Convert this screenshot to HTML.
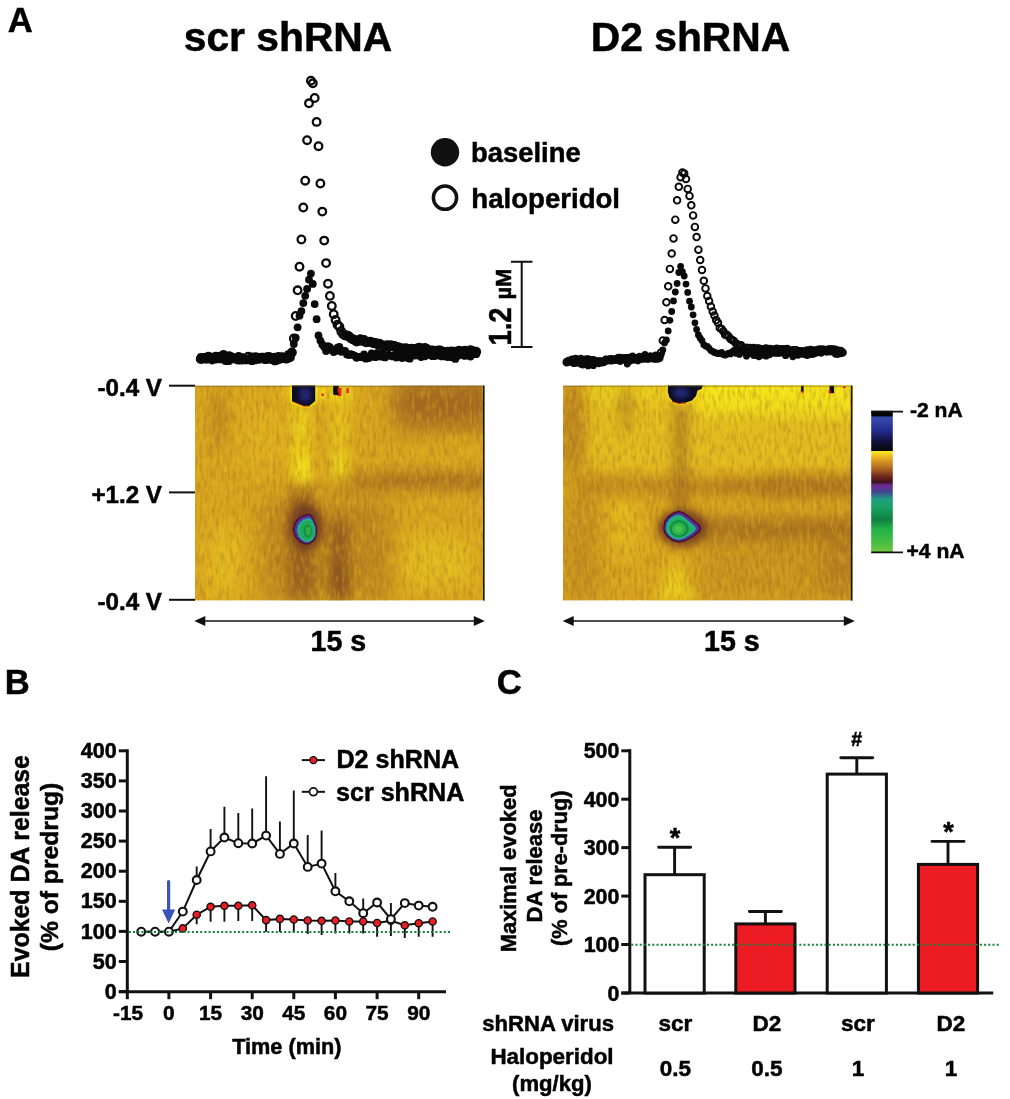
<!DOCTYPE html>
<html lang="en"><head><meta charset="utf-8"><title>Figure</title>
<style>
html,body{margin:0;padding:0;background:#fff;}
body{width:1010px;height:1099px;overflow:hidden;}
svg{display:block;}
text{font-family:"Liberation Sans", sans-serif;font-weight:bold;fill:#000;stroke:#000;stroke-width:0.5px;}
</style></head><body>
<svg width="1010" height="1099" viewBox="0 0 1010 1099">
<defs>
<filter id="nzd1" x="0" y="0" width="100%" height="100%" color-interpolation-filters="sRGB">
<feTurbulence type="fractalNoise" baseFrequency="0.3 0.085" numOctaves="2" seed="3"/>
<feColorMatrix type="matrix" values="0 0 0 0 0.60  0 0 0 0 0.38  0 0 0 0 0.12  1.8 0 0 0 -0.78"/>
</filter>
<filter id="nzl1" x="0" y="0" width="100%" height="100%" color-interpolation-filters="sRGB">
<feTurbulence type="fractalNoise" baseFrequency="0.33 0.09" numOctaves="2" seed="11"/>
<feColorMatrix type="matrix" values="0 0 0 0 0.95  0 0 0 0 0.84  0 0 0 0 0.14  1.8 0 0 0 -0.78"/>
</filter>
<filter id="nzd2" x="0" y="0" width="100%" height="100%" color-interpolation-filters="sRGB">
<feTurbulence type="fractalNoise" baseFrequency="0.32 0.09" numOctaves="2" seed="23"/>
<feColorMatrix type="matrix" values="0 0 0 0 0.60  0 0 0 0 0.38  0 0 0 0 0.12  1.8 0 0 0 -0.78"/>
</filter>
<filter id="nzl2" x="0" y="0" width="100%" height="100%" color-interpolation-filters="sRGB">
<feTurbulence type="fractalNoise" baseFrequency="0.29 0.085" numOctaves="2" seed="31"/>
<feColorMatrix type="matrix" values="0 0 0 0 0.95  0 0 0 0 0.84  0 0 0 0 0.14  1.8 0 0 0 -0.78"/>
</filter>
<filter id="b2" x="-60%" y="-60%" width="220%" height="220%"><feGaussianBlur stdDeviation="2"/></filter>
<filter id="b4" x="-60%" y="-60%" width="220%" height="220%"><feGaussianBlur stdDeviation="4"/></filter>
<filter id="b6" x="-60%" y="-60%" width="220%" height="220%"><feGaussianBlur stdDeviation="6 8"/></filter>
<filter id="b10" x="-60%" y="-60%" width="220%" height="220%"><feGaussianBlur stdDeviation="10"/></filter>
<filter id="b05" x="-20%" y="-20%" width="140%" height="140%"><feGaussianBlur stdDeviation="0.75"/></filter>
<filter id="b1" x="-60%" y="-60%" width="220%" height="220%"><feGaussianBlur stdDeviation="0.8"/></filter>
<linearGradient id="cb" x1="0" y1="0" x2="0" y2="1">
<stop offset="0" stop-color="#050505"/>
<stop offset="0.035" stop-color="#050505"/>
<stop offset="0.045" stop-color="#3a4aaa"/>
<stop offset="0.07" stop-color="#3344a8"/>
<stop offset="0.14" stop-color="#232b8c"/>
<stop offset="0.22" stop-color="#10103a"/>
<stop offset="0.275" stop-color="#08080c"/>
<stop offset="0.282" stop-color="#08080c"/>
<stop offset="0.286" stop-color="#f7e81e"/>
<stop offset="0.30" stop-color="#f5d820"/>
<stop offset="0.345" stop-color="#dfa021"/>
<stop offset="0.405" stop-color="#b06820"/>
<stop offset="0.465" stop-color="#70281a"/>
<stop offset="0.505" stop-color="#3c1020"/>
<stop offset="0.525" stop-color="#702890"/>
<stop offset="0.575" stop-color="#404890"/>
<stop offset="0.625" stop-color="#20a080"/>
<stop offset="0.685" stop-color="#18a060"/>
<stop offset="0.77" stop-color="#108040"/>
<stop offset="0.83" stop-color="#20b048"/>
<stop offset="0.95" stop-color="#50c040"/>
<stop offset="1" stop-color="#78c840"/>
</linearGradient>
<linearGradient id="ytop" x1="0" y1="0" x2="0" y2="1"><stop offset="0" stop-color="#f6e81c" stop-opacity="0.95"/><stop offset="0.45" stop-color="#f3e01c" stop-opacity="0.75"/><stop offset="1" stop-color="#f0d81e" stop-opacity="0"/></linearGradient>
<linearGradient id="yfade" x1="0" y1="0" x2="1" y2="0"><stop offset="0" stop-color="#fff" stop-opacity="0"/><stop offset="0.12" stop-color="#fff" stop-opacity="1"/><stop offset="1" stop-color="#fff" stop-opacity="1"/></linearGradient>
<mask id="ym" maskUnits="userSpaceOnUse" x="560" y="380" width="300" height="60"><rect x="690" y="380" width="170" height="60" fill="url(#yfade)"/></mask>
<clipPath id="cl1"><rect x="195" y="385.6" width="289" height="215"/></clipPath>
<clipPath id="cl2"><rect x="563" y="385.6" width="289.5" height="215"/></clipPath>
</defs>
<rect width="1010" height="1099" fill="#fff"/>

<text x="7.8" y="31.7" font-size="34.6">A</text>
<text x="4.7" y="693.8" font-size="34.6">B</text>
<text x="496.7" y="694" font-size="34.6">C</text>
<text x="288" y="51.2" font-size="40.8" text-anchor="middle">scr shRNA</text>
<text x="690.5" y="51.2" font-size="40.8" text-anchor="middle">D2 shRNA</text>
<circle cx="445" cy="152.2" r="14.2" fill="#111"/>
<circle cx="445" cy="197.7" r="11.6" fill="#fff" stroke="#111" stroke-width="3.5"/>
<text x="471" y="161.6" font-size="27.4">baseline</text>
<text x="471.3" y="207.5" font-size="27.6">haloperidol</text>
<path d="M511 261.8H532.5M511 347H532.5M521.7 261.8V347" stroke="#111" stroke-width="2" fill="none"/>
<text transform="translate(511.4,345.6) rotate(-90) scale(0.9,1)" font-size="30.5">1.2</text>
<text transform="translate(511.3,299.6) rotate(-90)" font-size="22">µM</text>
<g fill="#0a0a0a"><circle cx="200.7" cy="357.0" r="3.9"/><circle cx="202.6" cy="358.0" r="3.9"/><circle cx="204.5" cy="356.8" r="3.9"/><circle cx="206.4" cy="356.6" r="3.9"/><circle cx="208.3" cy="355.7" r="3.9"/><circle cx="210.2" cy="356.9" r="3.9"/><circle cx="212.1" cy="359.0" r="3.9"/><circle cx="214.0" cy="358.3" r="3.9"/><circle cx="215.9" cy="359.5" r="3.9"/><circle cx="217.8" cy="358.7" r="3.9"/><circle cx="219.7" cy="359.3" r="3.9"/><circle cx="221.6" cy="359.4" r="3.9"/><circle cx="223.5" cy="357.0" r="3.9"/><circle cx="225.4" cy="361.1" r="3.9"/><circle cx="227.3" cy="360.9" r="3.9"/><circle cx="229.2" cy="361.1" r="3.9"/><circle cx="231.1" cy="357.9" r="3.9"/><circle cx="233.0" cy="357.9" r="3.9"/><circle cx="234.9" cy="359.2" r="3.9"/><circle cx="236.8" cy="359.7" r="3.9"/><circle cx="238.7" cy="360.7" r="3.9"/><circle cx="240.6" cy="359.9" r="3.9"/><circle cx="242.5" cy="360.5" r="3.9"/><circle cx="244.4" cy="358.5" r="3.9"/><circle cx="246.3" cy="359.6" r="3.9"/><circle cx="248.2" cy="359.5" r="3.9"/><circle cx="250.1" cy="357.7" r="3.9"/><circle cx="252.0" cy="361.2" r="3.9"/><circle cx="253.9" cy="359.3" r="3.9"/><circle cx="255.8" cy="360.3" r="3.9"/><circle cx="257.7" cy="357.7" r="3.9"/><circle cx="259.6" cy="357.6" r="3.9"/><circle cx="261.5" cy="358.4" r="3.9"/><circle cx="263.4" cy="358.9" r="3.9"/><circle cx="265.3" cy="360.2" r="3.9"/><circle cx="267.2" cy="359.8" r="3.9"/><circle cx="269.1" cy="358.9" r="3.9"/><circle cx="271.0" cy="358.2" r="3.9"/><circle cx="272.9" cy="358.8" r="3.9"/><circle cx="274.8" cy="361.4" r="3.9"/><circle cx="276.7" cy="358.2" r="3.9"/><circle cx="278.6" cy="359.5" r="3.9"/><circle cx="280.5" cy="359.4" r="3.9"/><circle cx="282.4" cy="356.2" r="3.9"/><circle cx="284.3" cy="358.1" r="3.9"/><circle cx="286.2" cy="359.6" r="3.9"/><circle cx="288.1" cy="354.2" r="3.9"/><circle cx="290.0" cy="355.4" r="3.9"/><circle cx="291.9" cy="352.0" r="3.9"/><circle cx="293.8" cy="344.0" r="3.9"/><circle cx="295.7" cy="337.7" r="3.9"/><circle cx="297.6" cy="327.3" r="3.9"/><circle cx="299.5" cy="315.7" r="3.9"/><circle cx="301.4" cy="311.1" r="3.9"/><circle cx="303.3" cy="303.1" r="3.9"/><circle cx="305.2" cy="295.8" r="3.9"/><circle cx="307.1" cy="288.9" r="3.9"/><circle cx="309.0" cy="279.7" r="3.9"/><circle cx="310.9" cy="273.6" r="3.9"/><circle cx="312.8" cy="283.9" r="3.9"/><circle cx="314.7" cy="304.1" r="3.9"/><circle cx="316.6" cy="319.2" r="3.9"/><circle cx="318.5" cy="335.5" r="3.9"/><circle cx="320.4" cy="340.6" r="3.9"/><circle cx="322.3" cy="344.5" r="3.9"/><circle cx="324.2" cy="347.0" r="3.9"/><circle cx="326.1" cy="351.0" r="3.9"/><circle cx="328.0" cy="346.2" r="3.9"/><circle cx="329.9" cy="347.2" r="3.9"/><circle cx="331.8" cy="349.9" r="3.9"/><circle cx="333.7" cy="352.0" r="3.9"/><circle cx="335.6" cy="350.9" r="3.9"/><circle cx="337.5" cy="347.6" r="3.9"/><circle cx="339.4" cy="347.0" r="3.9"/><circle cx="341.3" cy="351.8" r="3.9"/><circle cx="343.2" cy="350.8" r="3.9"/><circle cx="345.1" cy="350.8" r="3.9"/><circle cx="347.0" cy="354.4" r="3.9"/><circle cx="348.9" cy="355.0" r="3.9"/><circle cx="350.8" cy="354.2" r="3.9"/><circle cx="352.7" cy="354.8" r="3.9"/><circle cx="354.6" cy="355.6" r="3.9"/><circle cx="356.5" cy="357.8" r="3.9"/><circle cx="358.4" cy="356.8" r="3.9"/><circle cx="360.3" cy="357.0" r="3.9"/><circle cx="362.2" cy="357.3" r="3.9"/><circle cx="364.1" cy="354.3" r="3.9"/><circle cx="366.0" cy="358.7" r="3.9"/><circle cx="367.9" cy="358.2" r="3.9"/><circle cx="369.8" cy="357.5" r="3.9"/><circle cx="371.7" cy="353.5" r="3.9"/><circle cx="373.6" cy="355.2" r="3.9"/><circle cx="375.5" cy="357.2" r="3.9"/><circle cx="377.4" cy="352.9" r="3.9"/><circle cx="379.3" cy="355.1" r="3.9"/><circle cx="381.2" cy="356.7" r="3.9"/><circle cx="383.1" cy="353.1" r="3.9"/><circle cx="385.0" cy="357.4" r="3.9"/><circle cx="386.9" cy="355.8" r="3.9"/><circle cx="388.8" cy="354.8" r="3.9"/><circle cx="390.7" cy="355.7" r="3.9"/><circle cx="392.6" cy="356.4" r="3.9"/><circle cx="394.5" cy="355.8" r="3.9"/><circle cx="396.4" cy="357.6" r="3.9"/><circle cx="398.3" cy="355.1" r="3.9"/><circle cx="400.2" cy="355.7" r="3.9"/><circle cx="402.1" cy="358.1" r="3.9"/><circle cx="404.0" cy="356.7" r="3.9"/><circle cx="405.9" cy="355.3" r="3.9"/><circle cx="407.8" cy="358.0" r="3.9"/><circle cx="409.7" cy="358.7" r="3.9"/><circle cx="411.6" cy="355.6" r="3.9"/><circle cx="413.5" cy="354.0" r="3.9"/><circle cx="415.4" cy="355.5" r="3.9"/><circle cx="417.3" cy="355.2" r="3.9"/><circle cx="419.2" cy="354.7" r="3.9"/><circle cx="421.1" cy="357.0" r="3.9"/><circle cx="423.0" cy="353.1" r="3.9"/><circle cx="424.9" cy="356.3" r="3.9"/><circle cx="426.8" cy="352.4" r="3.9"/><circle cx="428.7" cy="353.1" r="3.9"/><circle cx="430.6" cy="355.3" r="3.9"/><circle cx="432.5" cy="356.2" r="3.9"/><circle cx="434.4" cy="356.0" r="3.9"/><circle cx="436.3" cy="355.4" r="3.9"/><circle cx="438.2" cy="355.3" r="3.9"/><circle cx="440.1" cy="355.5" r="3.9"/><circle cx="442.0" cy="356.4" r="3.9"/><circle cx="443.9" cy="355.5" r="3.9"/><circle cx="445.8" cy="356.4" r="3.9"/><circle cx="447.7" cy="357.0" r="3.9"/><circle cx="449.6" cy="356.2" r="3.9"/><circle cx="451.5" cy="357.3" r="3.9"/><circle cx="453.4" cy="356.9" r="3.9"/><circle cx="455.3" cy="358.9" r="3.9"/><circle cx="457.2" cy="356.2" r="3.9"/><circle cx="459.1" cy="354.8" r="3.9"/><circle cx="461.0" cy="354.6" r="3.9"/><circle cx="462.9" cy="354.8" r="3.9"/><circle cx="464.8" cy="355.9" r="3.9"/><circle cx="466.7" cy="353.7" r="3.9"/><circle cx="468.6" cy="354.6" r="3.9"/><circle cx="470.5" cy="356.6" r="3.9"/><circle cx="472.4" cy="349.9" r="3.9"/><circle cx="474.3" cy="352.0" r="3.9"/><circle cx="476.2" cy="354.2" r="3.9"/></g>
<g fill="none" stroke="#0a0a0a" stroke-width="2.3"><circle cx="200.7" cy="359.0" r="3.8"/><circle cx="202.6" cy="358.8" r="3.8"/><circle cx="204.5" cy="358.1" r="3.8"/><circle cx="206.4" cy="358.7" r="3.8"/><circle cx="208.3" cy="358.3" r="3.8"/><circle cx="210.2" cy="357.5" r="3.8"/><circle cx="212.1" cy="359.5" r="3.8"/><circle cx="214.0" cy="357.7" r="3.8"/><circle cx="215.9" cy="356.8" r="3.8"/><circle cx="217.8" cy="357.0" r="3.8"/><circle cx="219.7" cy="356.8" r="3.8"/><circle cx="221.6" cy="356.9" r="3.8"/><circle cx="223.5" cy="354.9" r="3.8"/><circle cx="225.4" cy="356.6" r="3.8"/><circle cx="227.3" cy="357.8" r="3.8"/><circle cx="229.2" cy="356.3" r="3.8"/><circle cx="231.1" cy="357.3" r="3.8"/><circle cx="233.0" cy="358.3" r="3.8"/><circle cx="234.9" cy="358.4" r="3.8"/><circle cx="236.8" cy="359.1" r="3.8"/><circle cx="238.7" cy="356.9" r="3.8"/><circle cx="240.6" cy="358.1" r="3.8"/><circle cx="242.5" cy="358.3" r="3.8"/><circle cx="244.4" cy="359.1" r="3.8"/><circle cx="246.3" cy="359.5" r="3.8"/><circle cx="248.2" cy="356.7" r="3.8"/><circle cx="250.1" cy="359.5" r="3.8"/><circle cx="252.0" cy="357.5" r="3.8"/><circle cx="253.9" cy="359.0" r="3.8"/><circle cx="255.8" cy="357.2" r="3.8"/><circle cx="257.7" cy="358.3" r="3.8"/><circle cx="259.6" cy="358.8" r="3.8"/><circle cx="261.5" cy="357.6" r="3.8"/><circle cx="263.4" cy="357.7" r="3.8"/><circle cx="265.3" cy="357.9" r="3.8"/><circle cx="267.2" cy="357.3" r="3.8"/><circle cx="269.1" cy="357.0" r="3.8"/><circle cx="271.0" cy="359.0" r="3.8"/><circle cx="272.9" cy="358.6" r="3.8"/><circle cx="274.8" cy="357.6" r="3.8"/><circle cx="276.7" cy="359.9" r="3.8"/><circle cx="278.6" cy="357.0" r="3.8"/><circle cx="280.5" cy="358.5" r="3.8"/><circle cx="282.4" cy="357.6" r="3.8"/><circle cx="284.3" cy="357.9" r="3.8"/><circle cx="286.2" cy="358.4" r="3.8"/><circle cx="288.1" cy="358.0" r="3.8"/><circle cx="290.0" cy="357.2" r="3.8"/><circle cx="291.9" cy="352.4" r="3.8"/><circle cx="293.8" cy="338.4" r="3.8"/><circle cx="295.7" cy="316.0" r="3.8"/><circle cx="297.6" cy="290.3" r="3.8"/><circle cx="299.5" cy="266.7" r="3.8"/><circle cx="301.4" cy="239.5" r="3.8"/><circle cx="303.3" cy="207.5" r="3.8"/><circle cx="305.2" cy="180.7" r="3.8"/><circle cx="307.1" cy="140.2" r="3.8"/><circle cx="309.0" cy="103.3" r="3.8"/><circle cx="310.9" cy="80.7" r="3.8"/><circle cx="312.8" cy="83.3" r="3.8"/><circle cx="314.7" cy="98.0" r="3.8"/><circle cx="316.6" cy="121.9" r="3.8"/><circle cx="318.5" cy="146.2" r="3.8"/><circle cx="320.4" cy="183.5" r="3.8"/><circle cx="322.3" cy="211.6" r="3.8"/><circle cx="324.2" cy="240.6" r="3.8"/><circle cx="326.1" cy="263.1" r="3.8"/><circle cx="328.0" cy="283.7" r="3.8"/><circle cx="329.9" cy="295.9" r="3.8"/><circle cx="331.8" cy="306.0" r="3.8"/><circle cx="333.7" cy="314.2" r="3.8"/><circle cx="335.6" cy="319.9" r="3.8"/><circle cx="337.5" cy="324.8" r="3.8"/><circle cx="339.4" cy="326.7" r="3.8"/><circle cx="341.3" cy="331.5" r="3.8"/><circle cx="343.2" cy="334.3" r="3.8"/><circle cx="345.1" cy="335.5" r="3.8"/><circle cx="347.0" cy="335.5" r="3.8"/><circle cx="348.9" cy="336.2" r="3.8"/><circle cx="350.8" cy="338.3" r="3.8"/><circle cx="352.7" cy="339.2" r="3.8"/><circle cx="354.6" cy="339.9" r="3.8"/><circle cx="356.5" cy="341.6" r="3.8"/><circle cx="358.4" cy="340.7" r="3.8"/><circle cx="360.3" cy="339.3" r="3.8"/><circle cx="362.2" cy="340.9" r="3.8"/><circle cx="364.1" cy="340.0" r="3.8"/><circle cx="366.0" cy="342.2" r="3.8"/><circle cx="367.9" cy="342.1" r="3.8"/><circle cx="369.8" cy="341.6" r="3.8"/><circle cx="371.7" cy="342.3" r="3.8"/><circle cx="373.6" cy="343.2" r="3.8"/><circle cx="375.5" cy="342.9" r="3.8"/><circle cx="377.4" cy="344.2" r="3.8"/><circle cx="379.3" cy="343.6" r="3.8"/><circle cx="381.2" cy="344.9" r="3.8"/><circle cx="383.1" cy="345.7" r="3.8"/><circle cx="385.0" cy="346.3" r="3.8"/><circle cx="386.9" cy="345.1" r="3.8"/><circle cx="388.8" cy="346.7" r="3.8"/><circle cx="390.7" cy="345.1" r="3.8"/><circle cx="392.6" cy="346.2" r="3.8"/><circle cx="394.5" cy="345.9" r="3.8"/><circle cx="396.4" cy="348.6" r="3.8"/><circle cx="398.3" cy="347.2" r="3.8"/><circle cx="400.2" cy="348.3" r="3.8"/><circle cx="402.1" cy="348.4" r="3.8"/><circle cx="404.0" cy="348.6" r="3.8"/><circle cx="405.9" cy="348.2" r="3.8"/><circle cx="407.8" cy="348.9" r="3.8"/><circle cx="409.7" cy="350.0" r="3.8"/><circle cx="411.6" cy="348.7" r="3.8"/><circle cx="413.5" cy="349.0" r="3.8"/><circle cx="415.4" cy="349.4" r="3.8"/><circle cx="417.3" cy="348.5" r="3.8"/><circle cx="419.2" cy="347.7" r="3.8"/><circle cx="421.1" cy="348.4" r="3.8"/><circle cx="423.0" cy="349.7" r="3.8"/><circle cx="424.9" cy="347.9" r="3.8"/><circle cx="426.8" cy="348.9" r="3.8"/><circle cx="428.7" cy="350.4" r="3.8"/><circle cx="430.6" cy="350.6" r="3.8"/><circle cx="432.5" cy="350.4" r="3.8"/><circle cx="434.4" cy="351.3" r="3.8"/><circle cx="436.3" cy="351.1" r="3.8"/><circle cx="438.2" cy="350.4" r="3.8"/><circle cx="440.1" cy="350.4" r="3.8"/><circle cx="442.0" cy="351.4" r="3.8"/><circle cx="443.9" cy="352.8" r="3.8"/><circle cx="445.8" cy="351.9" r="3.8"/><circle cx="447.7" cy="351.8" r="3.8"/><circle cx="449.6" cy="352.0" r="3.8"/><circle cx="451.5" cy="351.5" r="3.8"/><circle cx="453.4" cy="352.5" r="3.8"/><circle cx="455.3" cy="351.7" r="3.8"/><circle cx="457.2" cy="352.8" r="3.8"/><circle cx="459.1" cy="350.7" r="3.8"/><circle cx="461.0" cy="352.6" r="3.8"/><circle cx="462.9" cy="351.7" r="3.8"/><circle cx="464.8" cy="350.6" r="3.8"/><circle cx="466.7" cy="352.5" r="3.8"/><circle cx="468.6" cy="351.7" r="3.8"/><circle cx="470.5" cy="350.2" r="3.8"/><circle cx="472.4" cy="351.3" r="3.8"/><circle cx="474.3" cy="352.2" r="3.8"/><circle cx="476.2" cy="351.8" r="3.8"/></g>
<g fill="#0a0a0a"><circle cx="566.7" cy="361.4" r="3.4"/><circle cx="568.5" cy="361.7" r="3.4"/><circle cx="570.3" cy="362.0" r="3.4"/><circle cx="572.0" cy="361.9" r="3.4"/><circle cx="573.8" cy="363.7" r="3.4"/><circle cx="575.6" cy="363.1" r="3.4"/><circle cx="577.4" cy="363.2" r="3.4"/><circle cx="579.2" cy="359.9" r="3.4"/><circle cx="580.9" cy="364.3" r="3.4"/><circle cx="582.7" cy="365.0" r="3.4"/><circle cx="584.5" cy="362.9" r="3.4"/><circle cx="586.3" cy="362.6" r="3.4"/><circle cx="588.1" cy="365.9" r="3.4"/><circle cx="589.8" cy="360.6" r="3.4"/><circle cx="591.6" cy="363.4" r="3.4"/><circle cx="593.4" cy="365.7" r="3.4"/><circle cx="595.2" cy="360.6" r="3.4"/><circle cx="597.0" cy="362.5" r="3.4"/><circle cx="598.7" cy="363.8" r="3.4"/><circle cx="600.5" cy="360.6" r="3.4"/><circle cx="602.3" cy="361.3" r="3.4"/><circle cx="604.1" cy="361.6" r="3.4"/><circle cx="605.9" cy="358.9" r="3.4"/><circle cx="607.6" cy="359.9" r="3.4"/><circle cx="609.4" cy="360.4" r="3.4"/><circle cx="611.2" cy="361.2" r="3.4"/><circle cx="613.0" cy="360.0" r="3.4"/><circle cx="614.8" cy="359.9" r="3.4"/><circle cx="616.5" cy="358.8" r="3.4"/><circle cx="618.3" cy="359.8" r="3.4"/><circle cx="620.1" cy="361.6" r="3.4"/><circle cx="621.9" cy="360.6" r="3.4"/><circle cx="623.7" cy="359.3" r="3.4"/><circle cx="625.4" cy="359.3" r="3.4"/><circle cx="627.2" cy="364.1" r="3.4"/><circle cx="629.0" cy="361.8" r="3.4"/><circle cx="630.8" cy="360.8" r="3.4"/><circle cx="632.6" cy="356.0" r="3.4"/><circle cx="634.3" cy="360.2" r="3.4"/><circle cx="636.1" cy="359.6" r="3.4"/><circle cx="637.9" cy="360.9" r="3.4"/><circle cx="639.7" cy="358.7" r="3.4"/><circle cx="641.5" cy="357.6" r="3.4"/><circle cx="643.2" cy="358.1" r="3.4"/><circle cx="645.0" cy="354.4" r="3.4"/><circle cx="646.8" cy="358.3" r="3.4"/><circle cx="648.6" cy="357.1" r="3.4"/><circle cx="650.4" cy="355.6" r="3.4"/><circle cx="652.1" cy="358.4" r="3.4"/><circle cx="653.9" cy="359.2" r="3.4"/><circle cx="655.7" cy="354.8" r="3.4"/><circle cx="657.5" cy="356.0" r="3.4"/><circle cx="659.3" cy="357.5" r="3.4"/><circle cx="661.0" cy="355.1" r="3.4"/><circle cx="662.8" cy="349.8" r="3.4"/><circle cx="664.6" cy="342.9" r="3.4"/><circle cx="666.4" cy="339.9" r="3.4"/><circle cx="668.2" cy="330.9" r="3.4"/><circle cx="669.9" cy="320.3" r="3.4"/><circle cx="671.7" cy="311.5" r="3.4"/><circle cx="673.5" cy="300.9" r="3.4"/><circle cx="675.3" cy="292.0" r="3.4"/><circle cx="677.1" cy="283.5" r="3.4"/><circle cx="678.8" cy="272.5" r="3.4"/><circle cx="680.6" cy="266.3" r="3.4"/><circle cx="682.4" cy="271.6" r="3.4"/><circle cx="684.2" cy="276.0" r="3.4"/><circle cx="686.0" cy="284.1" r="3.4"/><circle cx="687.7" cy="292.4" r="3.4"/><circle cx="689.5" cy="301.2" r="3.4"/><circle cx="691.3" cy="307.0" r="3.4"/><circle cx="693.1" cy="314.8" r="3.4"/><circle cx="694.9" cy="322.8" r="3.4"/><circle cx="696.6" cy="329.5" r="3.4"/><circle cx="698.4" cy="335.0" r="3.4"/><circle cx="700.2" cy="338.2" r="3.4"/><circle cx="702.0" cy="340.6" r="3.4"/><circle cx="703.8" cy="344.7" r="3.4"/><circle cx="705.5" cy="346.1" r="3.4"/><circle cx="707.3" cy="346.5" r="3.4"/><circle cx="709.1" cy="348.3" r="3.4"/><circle cx="710.9" cy="350.6" r="3.4"/><circle cx="712.7" cy="351.5" r="3.4"/><circle cx="714.4" cy="352.5" r="3.4"/><circle cx="716.2" cy="352.9" r="3.4"/><circle cx="718.0" cy="353.7" r="3.4"/><circle cx="719.8" cy="353.7" r="3.4"/><circle cx="721.6" cy="352.3" r="3.4"/><circle cx="723.3" cy="354.5" r="3.4"/><circle cx="725.1" cy="355.2" r="3.4"/><circle cx="726.9" cy="354.2" r="3.4"/><circle cx="728.7" cy="353.2" r="3.4"/><circle cx="730.5" cy="353.9" r="3.4"/><circle cx="732.2" cy="351.9" r="3.4"/><circle cx="734.0" cy="350.5" r="3.4"/><circle cx="735.8" cy="353.3" r="3.4"/><circle cx="737.6" cy="352.0" r="3.4"/><circle cx="739.4" cy="354.4" r="3.4"/><circle cx="741.1" cy="351.9" r="3.4"/><circle cx="742.9" cy="349.9" r="3.4"/><circle cx="744.7" cy="352.3" r="3.4"/><circle cx="746.5" cy="356.2" r="3.4"/><circle cx="748.3" cy="353.6" r="3.4"/><circle cx="750.0" cy="352.5" r="3.4"/><circle cx="751.8" cy="353.5" r="3.4"/><circle cx="753.6" cy="355.4" r="3.4"/><circle cx="755.4" cy="355.5" r="3.4"/><circle cx="757.2" cy="355.1" r="3.4"/><circle cx="758.9" cy="356.8" r="3.4"/><circle cx="760.7" cy="355.6" r="3.4"/><circle cx="762.5" cy="354.4" r="3.4"/><circle cx="764.3" cy="355.0" r="3.4"/><circle cx="766.1" cy="356.2" r="3.4"/><circle cx="767.8" cy="355.0" r="3.4"/><circle cx="769.6" cy="354.7" r="3.4"/><circle cx="771.4" cy="351.4" r="3.4"/><circle cx="773.2" cy="352.4" r="3.4"/><circle cx="775.0" cy="353.4" r="3.4"/><circle cx="776.7" cy="351.7" r="3.4"/><circle cx="778.5" cy="353.5" r="3.4"/><circle cx="780.3" cy="352.7" r="3.4"/><circle cx="782.1" cy="353.2" r="3.4"/><circle cx="783.9" cy="351.7" r="3.4"/><circle cx="785.6" cy="355.7" r="3.4"/><circle cx="787.4" cy="354.0" r="3.4"/><circle cx="789.2" cy="352.3" r="3.4"/><circle cx="791.0" cy="353.0" r="3.4"/><circle cx="792.8" cy="356.8" r="3.4"/><circle cx="794.5" cy="353.0" r="3.4"/><circle cx="796.3" cy="354.9" r="3.4"/><circle cx="798.1" cy="355.3" r="3.4"/><circle cx="799.9" cy="354.1" r="3.4"/><circle cx="801.7" cy="352.5" r="3.4"/><circle cx="803.4" cy="354.4" r="3.4"/><circle cx="805.2" cy="354.6" r="3.4"/><circle cx="807.0" cy="355.6" r="3.4"/><circle cx="808.8" cy="354.9" r="3.4"/><circle cx="810.6" cy="353.7" r="3.4"/><circle cx="812.3" cy="354.6" r="3.4"/><circle cx="814.1" cy="353.9" r="3.4"/><circle cx="815.9" cy="353.2" r="3.4"/><circle cx="817.7" cy="352.7" r="3.4"/><circle cx="819.5" cy="352.1" r="3.4"/><circle cx="821.2" cy="353.3" r="3.4"/><circle cx="823.0" cy="350.8" r="3.4"/><circle cx="824.8" cy="351.4" r="3.4"/><circle cx="826.6" cy="352.3" r="3.4"/><circle cx="828.4" cy="350.4" r="3.4"/><circle cx="830.1" cy="352.0" r="3.4"/><circle cx="831.9" cy="350.1" r="3.4"/><circle cx="833.7" cy="352.2" r="3.4"/><circle cx="835.5" cy="354.2" r="3.4"/><circle cx="837.3" cy="354.5" r="3.4"/><circle cx="839.0" cy="353.8" r="3.4"/><circle cx="840.8" cy="353.8" r="3.4"/><circle cx="842.6" cy="352.3" r="3.4"/></g>
<g fill="none" stroke="#0a0a0a" stroke-width="1.9"><circle cx="566.7" cy="362.2" r="3.3"/><circle cx="568.5" cy="361.1" r="3.3"/><circle cx="570.3" cy="361.3" r="3.3"/><circle cx="572.0" cy="359.8" r="3.3"/><circle cx="573.8" cy="360.2" r="3.3"/><circle cx="575.6" cy="359.0" r="3.3"/><circle cx="577.4" cy="360.8" r="3.3"/><circle cx="579.2" cy="360.9" r="3.3"/><circle cx="580.9" cy="359.0" r="3.3"/><circle cx="582.7" cy="360.4" r="3.3"/><circle cx="584.5" cy="361.0" r="3.3"/><circle cx="586.3" cy="359.5" r="3.3"/><circle cx="588.1" cy="359.5" r="3.3"/><circle cx="589.8" cy="360.2" r="3.3"/><circle cx="591.6" cy="360.6" r="3.3"/><circle cx="593.4" cy="360.2" r="3.3"/><circle cx="595.2" cy="361.3" r="3.3"/><circle cx="597.0" cy="361.5" r="3.3"/><circle cx="598.7" cy="361.7" r="3.3"/><circle cx="600.5" cy="361.7" r="3.3"/><circle cx="602.3" cy="362.2" r="3.3"/><circle cx="604.1" cy="361.8" r="3.3"/><circle cx="605.9" cy="359.9" r="3.3"/><circle cx="607.6" cy="360.2" r="3.3"/><circle cx="609.4" cy="359.6" r="3.3"/><circle cx="611.2" cy="359.3" r="3.3"/><circle cx="613.0" cy="359.8" r="3.3"/><circle cx="614.8" cy="359.6" r="3.3"/><circle cx="616.5" cy="359.7" r="3.3"/><circle cx="618.3" cy="358.0" r="3.3"/><circle cx="620.1" cy="358.0" r="3.3"/><circle cx="621.9" cy="358.7" r="3.3"/><circle cx="623.7" cy="358.5" r="3.3"/><circle cx="625.4" cy="358.3" r="3.3"/><circle cx="627.2" cy="358.4" r="3.3"/><circle cx="629.0" cy="357.9" r="3.3"/><circle cx="630.8" cy="359.0" r="3.3"/><circle cx="632.6" cy="358.8" r="3.3"/><circle cx="634.3" cy="358.6" r="3.3"/><circle cx="636.1" cy="358.3" r="3.3"/><circle cx="637.9" cy="358.8" r="3.3"/><circle cx="639.7" cy="357.1" r="3.3"/><circle cx="641.5" cy="358.4" r="3.3"/><circle cx="643.2" cy="358.6" r="3.3"/><circle cx="645.0" cy="357.5" r="3.3"/><circle cx="646.8" cy="358.6" r="3.3"/><circle cx="648.6" cy="358.5" r="3.3"/><circle cx="650.4" cy="357.3" r="3.3"/><circle cx="652.1" cy="358.1" r="3.3"/><circle cx="653.9" cy="357.9" r="3.3"/><circle cx="655.7" cy="358.4" r="3.3"/><circle cx="657.5" cy="358.4" r="3.3"/><circle cx="659.3" cy="357.9" r="3.3"/><circle cx="661.0" cy="352.5" r="3.3"/><circle cx="662.8" cy="340.5" r="3.3"/><circle cx="664.6" cy="320.0" r="3.3"/><circle cx="666.4" cy="302.3" r="3.3"/><circle cx="668.2" cy="286.3" r="3.3"/><circle cx="669.9" cy="268.9" r="3.3"/><circle cx="671.7" cy="253.5" r="3.3"/><circle cx="673.5" cy="238.4" r="3.3"/><circle cx="675.3" cy="219.7" r="3.3"/><circle cx="677.1" cy="200.3" r="3.3"/><circle cx="678.8" cy="186.8" r="3.3"/><circle cx="680.6" cy="177.2" r="3.3"/><circle cx="682.4" cy="172.4" r="3.3"/><circle cx="684.2" cy="173.6" r="3.3"/><circle cx="686.0" cy="179.0" r="3.3"/><circle cx="687.7" cy="188.9" r="3.3"/><circle cx="689.5" cy="195.9" r="3.3"/><circle cx="691.3" cy="205.3" r="3.3"/><circle cx="693.1" cy="215.4" r="3.3"/><circle cx="694.9" cy="226.9" r="3.3"/><circle cx="696.6" cy="237.1" r="3.3"/><circle cx="698.4" cy="249.7" r="3.3"/><circle cx="700.2" cy="260.0" r="3.3"/><circle cx="702.0" cy="270.0" r="3.3"/><circle cx="703.8" cy="280.8" r="3.3"/><circle cx="705.5" cy="288.4" r="3.3"/><circle cx="707.3" cy="296.0" r="3.3"/><circle cx="709.1" cy="301.0" r="3.3"/><circle cx="710.9" cy="306.6" r="3.3"/><circle cx="712.7" cy="311.5" r="3.3"/><circle cx="714.4" cy="315.5" r="3.3"/><circle cx="716.2" cy="320.1" r="3.3"/><circle cx="718.0" cy="322.8" r="3.3"/><circle cx="719.8" cy="328.0" r="3.3"/><circle cx="721.6" cy="329.1" r="3.3"/><circle cx="723.3" cy="331.3" r="3.3"/><circle cx="725.1" cy="334.7" r="3.3"/><circle cx="726.9" cy="334.7" r="3.3"/><circle cx="728.7" cy="336.5" r="3.3"/><circle cx="730.5" cy="339.0" r="3.3"/><circle cx="732.2" cy="339.9" r="3.3"/><circle cx="734.0" cy="341.0" r="3.3"/><circle cx="735.8" cy="343.2" r="3.3"/><circle cx="737.6" cy="344.4" r="3.3"/><circle cx="739.4" cy="345.4" r="3.3"/><circle cx="741.1" cy="345.2" r="3.3"/><circle cx="742.9" cy="347.9" r="3.3"/><circle cx="744.7" cy="348.5" r="3.3"/><circle cx="746.5" cy="347.7" r="3.3"/><circle cx="748.3" cy="348.2" r="3.3"/><circle cx="750.0" cy="347.9" r="3.3"/><circle cx="751.8" cy="349.5" r="3.3"/><circle cx="753.6" cy="348.1" r="3.3"/><circle cx="755.4" cy="349.2" r="3.3"/><circle cx="757.2" cy="348.5" r="3.3"/><circle cx="758.9" cy="348.4" r="3.3"/><circle cx="760.7" cy="349.5" r="3.3"/><circle cx="762.5" cy="349.9" r="3.3"/><circle cx="764.3" cy="349.0" r="3.3"/><circle cx="766.1" cy="348.6" r="3.3"/><circle cx="767.8" cy="349.6" r="3.3"/><circle cx="769.6" cy="349.0" r="3.3"/><circle cx="771.4" cy="349.2" r="3.3"/><circle cx="773.2" cy="350.0" r="3.3"/><circle cx="775.0" cy="349.8" r="3.3"/><circle cx="776.7" cy="348.7" r="3.3"/><circle cx="778.5" cy="350.8" r="3.3"/><circle cx="780.3" cy="349.3" r="3.3"/><circle cx="782.1" cy="350.1" r="3.3"/><circle cx="783.9" cy="349.3" r="3.3"/><circle cx="785.6" cy="350.0" r="3.3"/><circle cx="787.4" cy="349.0" r="3.3"/><circle cx="789.2" cy="351.8" r="3.3"/><circle cx="791.0" cy="351.8" r="3.3"/><circle cx="792.8" cy="350.2" r="3.3"/><circle cx="794.5" cy="350.2" r="3.3"/><circle cx="796.3" cy="350.3" r="3.3"/><circle cx="798.1" cy="352.4" r="3.3"/><circle cx="799.9" cy="351.3" r="3.3"/><circle cx="801.7" cy="351.6" r="3.3"/><circle cx="803.4" cy="351.4" r="3.3"/><circle cx="805.2" cy="351.4" r="3.3"/><circle cx="807.0" cy="350.6" r="3.3"/><circle cx="808.8" cy="351.2" r="3.3"/><circle cx="810.6" cy="350.0" r="3.3"/><circle cx="812.3" cy="350.7" r="3.3"/><circle cx="814.1" cy="350.8" r="3.3"/><circle cx="815.9" cy="350.7" r="3.3"/><circle cx="817.7" cy="350.0" r="3.3"/><circle cx="819.5" cy="349.4" r="3.3"/><circle cx="821.2" cy="350.0" r="3.3"/><circle cx="823.0" cy="349.4" r="3.3"/><circle cx="824.8" cy="350.8" r="3.3"/><circle cx="826.6" cy="350.2" r="3.3"/><circle cx="828.4" cy="349.6" r="3.3"/><circle cx="830.1" cy="349.5" r="3.3"/><circle cx="831.9" cy="349.4" r="3.3"/><circle cx="833.7" cy="349.4" r="3.3"/><circle cx="835.5" cy="349.9" r="3.3"/><circle cx="837.3" cy="350.6" r="3.3"/><circle cx="839.0" cy="350.9" r="3.3"/><circle cx="840.8" cy="351.1" r="3.3"/><circle cx="842.6" cy="352.4" r="3.3"/></g>
<g clip-path="url(#cl1)">
<rect x="195" y="385.6" width="289" height="215" fill="#d8a420"/>
<rect x="394" y="380" width="98" height="48" fill="#9a5f20" opacity="0.85" filter="url(#b10)"/>
<rect x="335" y="473" width="155" height="16" fill="#9a5f20" opacity="0.7" filter="url(#b6)"/>
<rect x="380" y="476" width="110" height="10" fill="#9a5f20" opacity="0.3" filter="url(#b4)"/>
<rect x="262" y="500" width="130" height="100" fill="#9a5f20" opacity="0.42" filter="url(#b10)"/>
<rect x="212" y="392" width="14" height="53" fill="#9a5f20" opacity="0.4" filter="url(#b6)"/>
<rect x="289" y="486" width="25" height="114" fill="#7e4620" opacity="0.6" filter="url(#b6)"/>
<rect x="330" y="520" width="18" height="80" fill="#7e4620" opacity="0.7" filter="url(#b6)"/>
<rect x="333" y="565" width="15" height="31" fill="#7e4620" opacity="0.4" filter="url(#b4)"/>
<rect x="292" y="404" width="19" height="78" fill="#f3e01c" opacity="0.7" filter="url(#b6)"/>
<rect x="294" y="456" width="16" height="24" fill="#f3e01c" opacity="0.8" filter="url(#b4)"/>
<rect x="331" y="398" width="18" height="82" fill="#f3e01c" opacity="0.5" filter="url(#b6)"/>
<rect x="333" y="456" width="15" height="22" fill="#f3e01c" opacity="0.6" filter="url(#b4)"/>
<rect x="286" y="386" width="66" height="14" fill="#f3e01c" opacity="0.9" filter="url(#b4)"/>
<rect x="208" y="526" width="34" height="70" fill="#ead022" opacity="0.5" filter="url(#b10)"/>
<rect x="400" y="535" width="74" height="53" fill="#ead022" opacity="0.5" filter="url(#b10)"/>
<rect x="240" y="400" width="50" height="70" fill="#ead022" opacity="0.25" filter="url(#b10)"/>
<rect x="195" y="385.6" width="289" height="215" filter="url(#nzd1)" opacity="0.5"/>
<rect x="195" y="385.6" width="289" height="215" filter="url(#nzl1)" opacity="0.4"/>
<ellipse cx="306" cy="527" rx="17" ry="23" fill="#6b3420" opacity="0.85" filter="url(#b4)"/>
<g filter="url(#b05)">
<path d="M293.5 530 L295 523.5 L298 519 L302 516.3 L306 515 L309.6 514.4 L312 517 L314.2 521 L316 526 L316.5 531 L315.6 537 L313 541 L309 543.6 L305 543.8 L300 541.5 L296 537.5Z" fill="#45102a" stroke="#45102a" stroke-width="1.4" stroke-linejoin="round"/>
<path d="M293.5 530 L295 523.5 L298 519 L302 516.3 L306 515 L309.6 514.4 L312 517 L314.2 521 L316 526 L316.5 531 L315.6 537 L313 541 L309 543.6 L305 543.8 L300 541.5 L296 537.5Z" fill="#5e2a90" stroke="#5e2a90" stroke-width="0.6" stroke-linejoin="round" transform="translate(306.2,529.6) scale(0.93,0.94) translate(-306.2,-529.6)"/>
<path d="M293.5 530 L295 523.5 L298 519 L302 516.3 L306 515 L309.6 514.4 L312 517 L314.2 521 L316 526 L316.5 531 L315.6 537 L313 541 L309 543.6 L305 543.8 L300 541.5 L296 537.5Z" fill="#3a5cae" transform="translate(307,530.2) scale(0.85,0.86) translate(-306.2,-529.6)"/>
<path d="M293.5 530 L295 523.5 L298 519 L302 516.3 L306 515 L309.6 514.4 L312 517 L314.2 521 L316 526 L316.5 531 L315.6 537 L313 541 L309 543.6 L305 543.8 L300 541.5 L296 537.5Z" fill="#1fb890" transform="translate(307.2,530.4) scale(0.78,0.8) translate(-306.2,-529.6)"/>
<path d="M293.5 530 L295 523.5 L298 519 L302 516.3 L306 515 L309.6 514.4 L312 517 L314.2 521 L316 526 L316.5 531 L315.6 537 L313 541 L309 543.6 L305 543.8 L300 541.5 L296 537.5Z" fill="#22a858" transform="translate(307.4,530.6) scale(0.66,0.7) translate(-306.2,-529.6)"/>
<ellipse cx="307.8" cy="531" rx="4.2" ry="6.4" fill="#198c48"/>
<ellipse cx="308.2" cy="531" rx="2.6" ry="4.4" fill="#2cb04a"/>
</g>
<path d="M292 385 H315.2 V401 L309.5 405.7 H304 L292 401Z" fill="#f6e61a" stroke="#f6e61a" stroke-width="3" stroke-linejoin="round" filter="url(#b1)"/>
<path d="M292 401 L304 405.9 H309.5" stroke="#e02a1c" stroke-width="1.2" fill="none"/>
<path d="M292 385 H315.2 V401 L309.5 405.7 H304 L292 401Z" fill="#0d0d26"/>
<rect x="299.5" y="388" width="11" height="13" fill="#2a2f86" opacity="0.75" filter="url(#b2)"/>
<rect x="333.2" y="385.6" width="5.6" height="9" fill="#0a0a0a"/><rect x="337.6" y="388" width="3.6" height="8" fill="#e4221c"/><rect x="334.5" y="392.5" width="4" height="2.6" fill="#0a0a0a"/>
<circle cx="322.6" cy="394.8" r="1.4" fill="#e4221c"/><rect x="346.4" y="388.2" width="2.4" height="5" fill="#e4221c"/>
<rect x="195" y="385.6" width="289" height="1" fill="#5a4a30" opacity="0.6"/>
</g>
<rect x="483" y="385.6" width="1.6" height="215" fill="#1a1208"/>
<g clip-path="url(#cl2)">
<rect x="563" y="385.6" width="289" height="215" fill="#d8a420"/>
<rect x="585" y="380" width="275" height="95" fill="#ead022" opacity="0.55" filter="url(#b10)"/>
<rect x="698" y="378" width="164" height="34" fill="#f3e01c" opacity="1" filter="url(#b6)"/>
<rect x="700" y="380" width="162" height="20" fill="#f3e01c" opacity="0.8" filter="url(#b4)"/>
<rect x="586" y="380" width="86" height="20" fill="#f3e01c" opacity="0.6" filter="url(#b6)"/>
<rect x="690" y="385.6" width="170" height="40" fill="url(#ytop)" mask="url(#ym)"/>
<rect x="563" y="386" width="21" height="84" fill="#9a5f20" opacity="0.45" filter="url(#b6)"/>
<rect x="619" y="388" width="14" height="38" fill="#9a5f20" opacity="0.45" filter="url(#b6)"/>
<rect x="673" y="406" width="15" height="109" fill="#7e4620" opacity="0.45" filter="url(#b6)"/>
<rect x="575" y="478" width="285" height="16" fill="#9a5f20" opacity="0.5" filter="url(#b6)"/>
<rect x="720" y="480" width="140" height="12" fill="#9a5f20" opacity="0.3" filter="url(#b4)"/>
<rect x="760" y="476" width="100" height="21" fill="#9a5f20" opacity="0.35" filter="url(#b6)"/>
<rect x="698" y="518" width="162" height="22" fill="#7e4620" opacity="0.55" filter="url(#b6)"/>
<rect x="820" y="537" width="40" height="59" fill="#9a5f20" opacity="0.55" filter="url(#b10)"/>
<rect x="563" y="500" width="37" height="100" fill="#9a5f20" opacity="0.3" filter="url(#b10)"/>
<rect x="700" y="540" width="120" height="60" fill="#9a5f20" opacity="0.25" filter="url(#b10)"/>
<rect x="610" y="495" width="28" height="61" fill="#ead022" opacity="0.5" filter="url(#b10)"/>
<path d="M676 556 L696 602 H654Z" fill="#f0d81e" opacity="0.8" filter="url(#b6)"/>
<rect x="563" y="385.6" width="289" height="215" filter="url(#nzd2)" opacity="0.5"/>
<rect x="563" y="385.6" width="289" height="215" filter="url(#nzl2)" opacity="0.4"/>
<ellipse cx="682" cy="528" rx="25" ry="19" fill="#6b3420" opacity="0.85" filter="url(#b4)"/>
<g filter="url(#b05)">
<path d="M663.8 528.6 L664.8 521.7 L668.7 516.2 L673.7 513 L678.6 511.3 L683.6 513 L689.5 517.2 L695.4 522.2 L699.4 525.6 L700.6 528.6 L699.4 531.1 L693.5 536 L686.5 540 L679.6 542 L672.7 540.5 L667.7 536.5 L664.8 532.6Z" fill="#45102a" stroke="#45102a" stroke-width="1.4" stroke-linejoin="round"/>
<path d="M663.8 528.6 L664.8 521.7 L668.7 516.2 L673.7 513 L678.6 511.3 L683.6 513 L689.5 517.2 L695.4 522.2 L699.4 525.6 L700.6 528.6 L699.4 531.1 L693.5 536 L686.5 540 L679.6 542 L672.7 540.5 L667.7 536.5 L664.8 532.6Z" fill="#5e2a90" stroke="#5e2a90" stroke-width="0.6" stroke-linejoin="round" transform="translate(681.6,527.6) scale(0.94,0.93) translate(-681.6,-527.6)"/>
<path d="M663.8 528.6 L664.8 521.7 L668.7 516.2 L673.7 513 L678.6 511.3 L683.6 513 L689.5 517.2 L695.4 522.2 L699.4 525.6 L700.6 528.6 L699.4 531.1 L693.5 536 L686.5 540 L679.6 542 L672.7 540.5 L667.7 536.5 L664.8 532.6Z" fill="#3a5cae" transform="translate(680.6,527.9) scale(0.85,0.85) translate(-681.6,-527.6)"/>
<path d="M663.8 528.6 L664.8 521.7 L668.7 516.2 L673.7 513 L678.6 511.3 L683.6 513 L689.5 517.2 L695.4 522.2 L699.4 525.6 L700.6 528.6 L699.4 531.1 L693.5 536 L686.5 540 L679.6 542 L672.7 540.5 L667.7 536.5 L664.8 532.6Z" fill="#1fb890" transform="translate(680.4,528) scale(0.79,0.8) translate(-681.6,-527.6)"/>
<path d="M663.8 528.6 L664.8 521.7 L668.7 516.2 L673.7 513 L678.6 511.3 L683.6 513 L689.5 517.2 L695.4 522.2 L699.4 525.6 L700.6 528.6 L699.4 531.1 L693.5 536 L686.5 540 L679.6 542 L672.7 540.5 L667.7 536.5 L664.8 532.6Z" fill="#22b060" transform="translate(680.2,528) scale(0.7,0.71) translate(-681.6,-527.6)"/>
<ellipse cx="679.2" cy="528.6" rx="9.6" ry="8.6" fill="#178c48"/>
<ellipse cx="678.8" cy="528.8" rx="7" ry="6.4" fill="#2cb44a"/>
<ellipse cx="678.4" cy="529" rx="3.6" ry="3.3" fill="#4cc04c"/>
</g>
<path d="M668 385 H703 L701.5 389 L697.5 390.5 L696 396 L692 400.5 L686 402.6 L679 403 L673 401.5 L669.5 397.5 L667.8 392Z" fill="#f6e61a" stroke="#f6e61a" stroke-width="2.5" stroke-linejoin="round" filter="url(#b1)"/>
<path d="M672 401.5 L679 403.6 L686 403" stroke="#e02a1c" stroke-width="1" fill="none"/>
<path d="M668 385 H703 L701.5 389 L697.5 390.5 L696 396 L692 400.5 L686 402.6 L679 403 L673 401.5 L669.5 397.5 L667.8 392Z" fill="#0d0d26"/>
<ellipse cx="681" cy="393" rx="8" ry="5.5" fill="#2a2f86" opacity="0.75" filter="url(#b2)"/>
<rect x="801.2" y="385.6" width="2.4" height="6.4" fill="#0a0a0a"/><rect x="829.5" y="385.6" width="4.5" height="7.5" fill="#0a0a0a"/><rect x="828.6" y="390" width="2" height="3.4" fill="#e4221c"/><circle cx="844.4" cy="387.2" r="1.2" fill="#e4221c"/><rect x="802" y="391" width="1.6" height="2.2" fill="#e4221c"/>
<rect x="563" y="385.6" width="289" height="1" fill="#5a4a30" opacity="0.6"/>
</g>
<rect x="850.8" y="385.6" width="1.7" height="215" fill="#1a1208"/>
<line x1="169" y1="385.7" x2="195" y2="385.7" stroke="#111" stroke-width="2"/>
<text x="162" y="395.9" font-size="24.2" text-anchor="end">-0.4 V</text>
<line x1="169" y1="492.4" x2="195" y2="492.4" stroke="#111" stroke-width="2"/>
<text x="162" y="502.6" font-size="24.2" text-anchor="end">+1.2 V</text>
<line x1="169" y1="599.8" x2="195" y2="599.8" stroke="#111" stroke-width="2"/>
<text x="162" y="610.0" font-size="24.2" text-anchor="end">-0.4 V</text>
<line x1="200.3" y1="621" x2="478.8" y2="621" stroke="#111" stroke-width="1.7"/>
<path d="M194.3 621 l11 -5 v10z M484.8 621 l-11 -5 v10z" fill="#111"/>
<line x1="568.7" y1="621" x2="848.8" y2="621" stroke="#111" stroke-width="1.7"/>
<path d="M562.7 621 l11 -5 v10z M854.8 621 l-11 -5 v10z" fill="#111"/>
<text x="338.4" y="651.2" font-size="28.6" text-anchor="middle">15 s</text>
<text x="731.9" y="651.2" font-size="28.6" text-anchor="middle">15 s</text>
<rect x="871.2" y="410.8" width="21.6" height="141.5" fill="url(#cb)"/>
<path d="M871.2 411.6H903M871.2 552.3H903" stroke="#111" stroke-width="1.8"/>
<text x="910" y="416.8" font-size="21.1">-2 nA</text>
<text x="906.5" y="557.5" font-size="21.1">+4 nA</text>
<path d="M127.3 749.3V991.7" stroke="#111" stroke-width="3" fill="none"/>
<path d="M118.8 991.7H446" stroke="#111" stroke-width="3" fill="none"/>
<line x1="118.8" y1="991.6" x2="127.3" y2="991.6" stroke="#111" stroke-width="3"/>
<text x="116.6" y="998.7" font-size="21.5" text-anchor="end">0</text>
<line x1="118.8" y1="961.5" x2="127.3" y2="961.5" stroke="#111" stroke-width="3"/>
<text x="116.6" y="968.6" font-size="21.5" text-anchor="end">50</text>
<line x1="118.8" y1="931.4" x2="127.3" y2="931.4" stroke="#111" stroke-width="3"/>
<text x="116.6" y="938.5" font-size="21.5" text-anchor="end">100</text>
<line x1="118.8" y1="901.3" x2="127.3" y2="901.3" stroke="#111" stroke-width="3"/>
<text x="116.6" y="908.4" font-size="21.5" text-anchor="end">150</text>
<line x1="118.8" y1="871.2" x2="127.3" y2="871.2" stroke="#111" stroke-width="3"/>
<text x="116.6" y="878.3" font-size="21.5" text-anchor="end">200</text>
<line x1="118.8" y1="841.1" x2="127.3" y2="841.1" stroke="#111" stroke-width="3"/>
<text x="116.6" y="848.2" font-size="21.5" text-anchor="end">250</text>
<line x1="118.8" y1="811.0" x2="127.3" y2="811.0" stroke="#111" stroke-width="3"/>
<text x="116.6" y="818.1" font-size="21.5" text-anchor="end">300</text>
<line x1="118.8" y1="780.9" x2="127.3" y2="780.9" stroke="#111" stroke-width="3"/>
<text x="116.6" y="788.0" font-size="21.5" text-anchor="end">350</text>
<line x1="118.8" y1="750.8" x2="127.3" y2="750.8" stroke="#111" stroke-width="3"/>
<text x="116.6" y="757.9" font-size="21.5" text-anchor="end">400</text>
<line x1="127.3" y1="991.7" x2="127.3" y2="999.2" stroke="#111" stroke-width="3"/>
<text x="128.1" y="1020" font-size="20.8" text-anchor="middle">-15</text>
<line x1="168.9" y1="991.7" x2="168.9" y2="999.2" stroke="#111" stroke-width="3"/>
<text x="168.9" y="1020" font-size="20.8" text-anchor="middle">0</text>
<line x1="210.6" y1="991.7" x2="210.6" y2="999.2" stroke="#111" stroke-width="3"/>
<text x="210.6" y="1020" font-size="20.8" text-anchor="middle">15</text>
<line x1="252.2" y1="991.7" x2="252.2" y2="999.2" stroke="#111" stroke-width="3"/>
<text x="252.2" y="1020" font-size="20.8" text-anchor="middle">30</text>
<line x1="293.8" y1="991.7" x2="293.8" y2="999.2" stroke="#111" stroke-width="3"/>
<text x="293.8" y="1020" font-size="20.8" text-anchor="middle">45</text>
<line x1="335.4" y1="991.7" x2="335.4" y2="999.2" stroke="#111" stroke-width="3"/>
<text x="335.4" y="1020" font-size="20.8" text-anchor="middle">60</text>
<line x1="377.1" y1="991.7" x2="377.1" y2="999.2" stroke="#111" stroke-width="3"/>
<text x="377.1" y="1020" font-size="20.8" text-anchor="middle">75</text>
<line x1="418.7" y1="991.7" x2="418.7" y2="999.2" stroke="#111" stroke-width="3"/>
<text x="418.7" y="1020" font-size="20.8" text-anchor="middle">90</text>
<text x="286.8" y="1053.7" font-size="21.7" text-anchor="middle">Time (min)</text>
<text transform="translate(28.6,866.5) rotate(-90)" font-size="24.85" text-anchor="middle">Evoked DA release</text>
<text transform="translate(57.6,867) rotate(-90)" font-size="24.7" text-anchor="middle">(% of predrug)</text>
<path d="M168.6 881.5 V910" stroke="#3a53b5" stroke-width="3.2" fill="none" stroke-linecap="round"/><path d="M162 909.5 H175.2 L168.6 923.5Z" fill="#3a53b5"/>
<path d="M196.7 914.7V924.3M210.6 906.8V921.8M224.4 905.8V921.8M238.3 905.8V921M252.2 905.3V921M266.1 920.1V932M279.9 918.9V932M293.8 919.5V932.5M307.7 920.5V934M321.6 920.8V935M335.4 920.5V933.5M349.3 921.5V933.5M363.2 921.5V933.5M377.1 923.0V936.7M390.9 920.8V936M404.8 925.3V938M418.7 923.2V936.7M432.6 921.5V936.7" stroke="#111" stroke-width="1.9" fill="none"/>
<polyline points="141.2,931.7 155.1,931.7 168.9,931.7 182.8,928.4 196.7,914.7 210.6,906.8 224.4,905.8 238.3,905.8 252.2,905.3 266.1,920.1 279.9,918.9 293.8,919.5 307.7,920.5 321.6,920.8 335.4,920.5 349.3,921.5 363.2,921.5 377.1,923.0 390.9,920.8 404.8,925.3 418.7,923.2 432.6,921.5" fill="none" stroke="#111" stroke-width="2"/>
<g fill="#ed1c24" stroke="#111" stroke-width="1.4"><circle cx="141.2" cy="931.7" r="3.6"/><circle cx="155.1" cy="931.7" r="3.6"/><circle cx="168.9" cy="931.7" r="3.6"/><circle cx="182.8" cy="928.4" r="3.6"/><circle cx="196.7" cy="914.7" r="3.6"/><circle cx="210.6" cy="906.8" r="3.6"/><circle cx="224.4" cy="905.8" r="3.6"/><circle cx="238.3" cy="905.8" r="3.6"/><circle cx="252.2" cy="905.3" r="3.6"/><circle cx="266.1" cy="920.1" r="3.6"/><circle cx="279.9" cy="918.9" r="3.6"/><circle cx="293.8" cy="919.5" r="3.6"/><circle cx="307.7" cy="920.5" r="3.6"/><circle cx="321.6" cy="920.8" r="3.6"/><circle cx="335.4" cy="920.5" r="3.6"/><circle cx="349.3" cy="921.5" r="3.6"/><circle cx="363.2" cy="921.5" r="3.6"/><circle cx="377.1" cy="923.0" r="3.6"/><circle cx="390.9" cy="920.8" r="3.6"/><circle cx="404.8" cy="925.3" r="3.6"/><circle cx="418.7" cy="923.2" r="3.6"/><circle cx="432.6" cy="921.5" r="3.6"/></g>
<path d="M196.7 880.0V866.4M210.6 851.4V829M224.4 837.5V806.7M238.3 843.2V812.9M252.2 843.5V808.5M266.1 835.6V776.3M279.9 853.9V821.4M293.8 843.5V790.5M307.7 866.9V835M321.6 863.6V830.4M335.4 891.3V872.9M363.2 913.2V898.6M390.9 919.2V903" stroke="#111" stroke-width="1.9" fill="none"/>
<polyline points="141.2,931.7 155.1,931.7 168.9,931.7 182.8,911.6 196.7,880.0 210.6,851.4 224.4,837.5 238.3,843.2 252.2,843.5 266.1,835.6 279.9,853.9 293.8,843.5 307.7,866.9 321.6,863.6 335.4,891.3 349.3,901.3 363.2,913.2 377.1,902.5 390.9,919.2 404.8,903.1 418.7,905.6 432.6,906.8" fill="none" stroke="#111" stroke-width="2"/>
<g fill="#fff" stroke="#111" stroke-width="2.1"><circle cx="141.2" cy="931.7" r="3.9"/><circle cx="155.1" cy="931.7" r="3.9"/><circle cx="168.9" cy="931.7" r="3.9"/><circle cx="182.8" cy="911.6" r="3.9"/><circle cx="196.7" cy="880.0" r="3.9"/><circle cx="210.6" cy="851.4" r="3.9"/><circle cx="224.4" cy="837.5" r="3.9"/><circle cx="238.3" cy="843.2" r="3.9"/><circle cx="252.2" cy="843.5" r="3.9"/><circle cx="266.1" cy="835.6" r="3.9"/><circle cx="279.9" cy="853.9" r="3.9"/><circle cx="293.8" cy="843.5" r="3.9"/><circle cx="307.7" cy="866.9" r="3.9"/><circle cx="321.6" cy="863.6" r="3.9"/><circle cx="335.4" cy="891.3" r="3.9"/><circle cx="349.3" cy="901.3" r="3.9"/><circle cx="363.2" cy="913.2" r="3.9"/><circle cx="377.1" cy="902.5" r="3.9"/><circle cx="390.9" cy="919.2" r="3.9"/><circle cx="404.8" cy="903.1" r="3.9"/><circle cx="418.7" cy="905.6" r="3.9"/><circle cx="432.6" cy="906.8" r="3.9"/></g>
<line x1="128.8" y1="932" x2="452" y2="932" stroke="#10803a" stroke-width="2" stroke-dasharray="2 2.2"/>
<line x1="301.8" y1="760.1" x2="325" y2="760.1" stroke="#111" stroke-width="2"/><circle cx="313.4" cy="760.1" r="3.5" fill="#ed1c24" stroke="#111" stroke-width="1.3"/>
<line x1="301.8" y1="791.8" x2="325" y2="791.8" stroke="#111" stroke-width="2"/><circle cx="313.4" cy="791.8" r="3.9" fill="#fff" stroke="#111" stroke-width="1.7"/>
<text x="336.5" y="767.8" font-size="25.1">D2 shRNA</text>
<text x="336" y="800.5" font-size="25.1">scr shRNA</text>
<path d="M629.8 749.2V993.0" stroke="#111" stroke-width="3" fill="none"/>
<path d="M621.3 993.0H993.2" stroke="#111" stroke-width="3" fill="none"/>
<line x1="621.3" y1="993.0" x2="629.8" y2="993.0" stroke="#111" stroke-width="3"/>
<text x="619.4" y="1000.6" font-size="21.4" text-anchor="end">0</text>
<line x1="621.3" y1="944.5" x2="629.8" y2="944.5" stroke="#111" stroke-width="3"/>
<text x="619.4" y="952.1" font-size="21.4" text-anchor="end">100</text>
<line x1="621.3" y1="896.1" x2="629.8" y2="896.1" stroke="#111" stroke-width="3"/>
<text x="619.4" y="903.7" font-size="21.4" text-anchor="end">200</text>
<line x1="621.3" y1="847.6" x2="629.8" y2="847.6" stroke="#111" stroke-width="3"/>
<text x="619.4" y="855.2" font-size="21.4" text-anchor="end">300</text>
<line x1="621.3" y1="799.2" x2="629.8" y2="799.2" stroke="#111" stroke-width="3"/>
<text x="619.4" y="806.8" font-size="21.4" text-anchor="end">400</text>
<line x1="621.3" y1="750.8" x2="629.8" y2="750.8" stroke="#111" stroke-width="3"/>
<text x="619.4" y="758.4" font-size="21.4" text-anchor="end">500</text>
<path d="M674.6 874.7155V847.2M658.6 847.2H690.6" stroke="#111" stroke-width="2.9" fill="none" stroke-linecap="round"/>
<rect x="645.0" y="874.7" width="59.2" height="118.3" fill="#fff" stroke="#111" stroke-width="3"/>
<text x="675.1" y="846.5" font-size="27" text-anchor="middle">*</text>
<path d="M765.4 923.9024999999999V911.5M749.4 911.5H781.4" stroke="#111" stroke-width="2.9" fill="none" stroke-linecap="round"/>
<rect x="735.8" y="923.9" width="59.2" height="69.1" fill="#ed1c24" stroke="#111" stroke-width="3"/>
<path d="M856.8 774.15V757.8M840.8 757.8H872.8" stroke="#111" stroke-width="2.9" fill="none" stroke-linecap="round"/>
<rect x="827.2" y="774.1" width="59.2" height="218.9" fill="#fff" stroke="#111" stroke-width="3"/>
<text x="856.8" y="745.8" font-size="19.5" text-anchor="middle">#</text>
<path d="M948 864.3910999999999V841.4M932 841.4H964" stroke="#111" stroke-width="2.9" fill="none" stroke-linecap="round"/>
<rect x="918.4" y="864.4" width="59.2" height="128.6" fill="#ed1c24" stroke="#111" stroke-width="3"/>
<text x="948.5" y="840.7" font-size="27" text-anchor="middle">*</text>
<line x1="631.3" y1="944.8" x2="1000" y2="944.8" stroke="#10803a" stroke-width="2" stroke-dasharray="2 2.2"/>
<text transform="translate(515.8,868.4) rotate(-90)" font-size="21.9" text-anchor="middle">Maximal evoked</text>
<text transform="translate(541.7,866) rotate(-90)" font-size="22" text-anchor="middle">DA release</text>
<text transform="translate(567.2,868.2) rotate(-90)" font-size="21.7" text-anchor="middle">(% of pre-drug)</text>
<text x="614" y="1031" font-size="22.1" text-anchor="end">shRNA virus</text>
<text x="552" y="1063.6" font-size="22.4" text-anchor="middle">Haloperidol</text>
<text x="552" y="1091" font-size="22.1" text-anchor="middle">(mg/kg)</text>
<text x="675.3" y="1031.2" font-size="22.5" text-anchor="middle">scr</text>
<text x="675.3" y="1076" font-size="22.5" text-anchor="middle">0.5</text>
<text x="767" y="1031.2" font-size="22.5" text-anchor="middle">D2</text>
<text x="767" y="1076" font-size="22.5" text-anchor="middle">0.5</text>
<text x="858" y="1031.2" font-size="22.5" text-anchor="middle">scr</text>
<text x="858" y="1076" font-size="22.5" text-anchor="middle">1</text>
<text x="951" y="1031.2" font-size="22.5" text-anchor="middle">D2</text>
<text x="951" y="1076" font-size="22.5" text-anchor="middle">1</text>
</svg></body></html>
